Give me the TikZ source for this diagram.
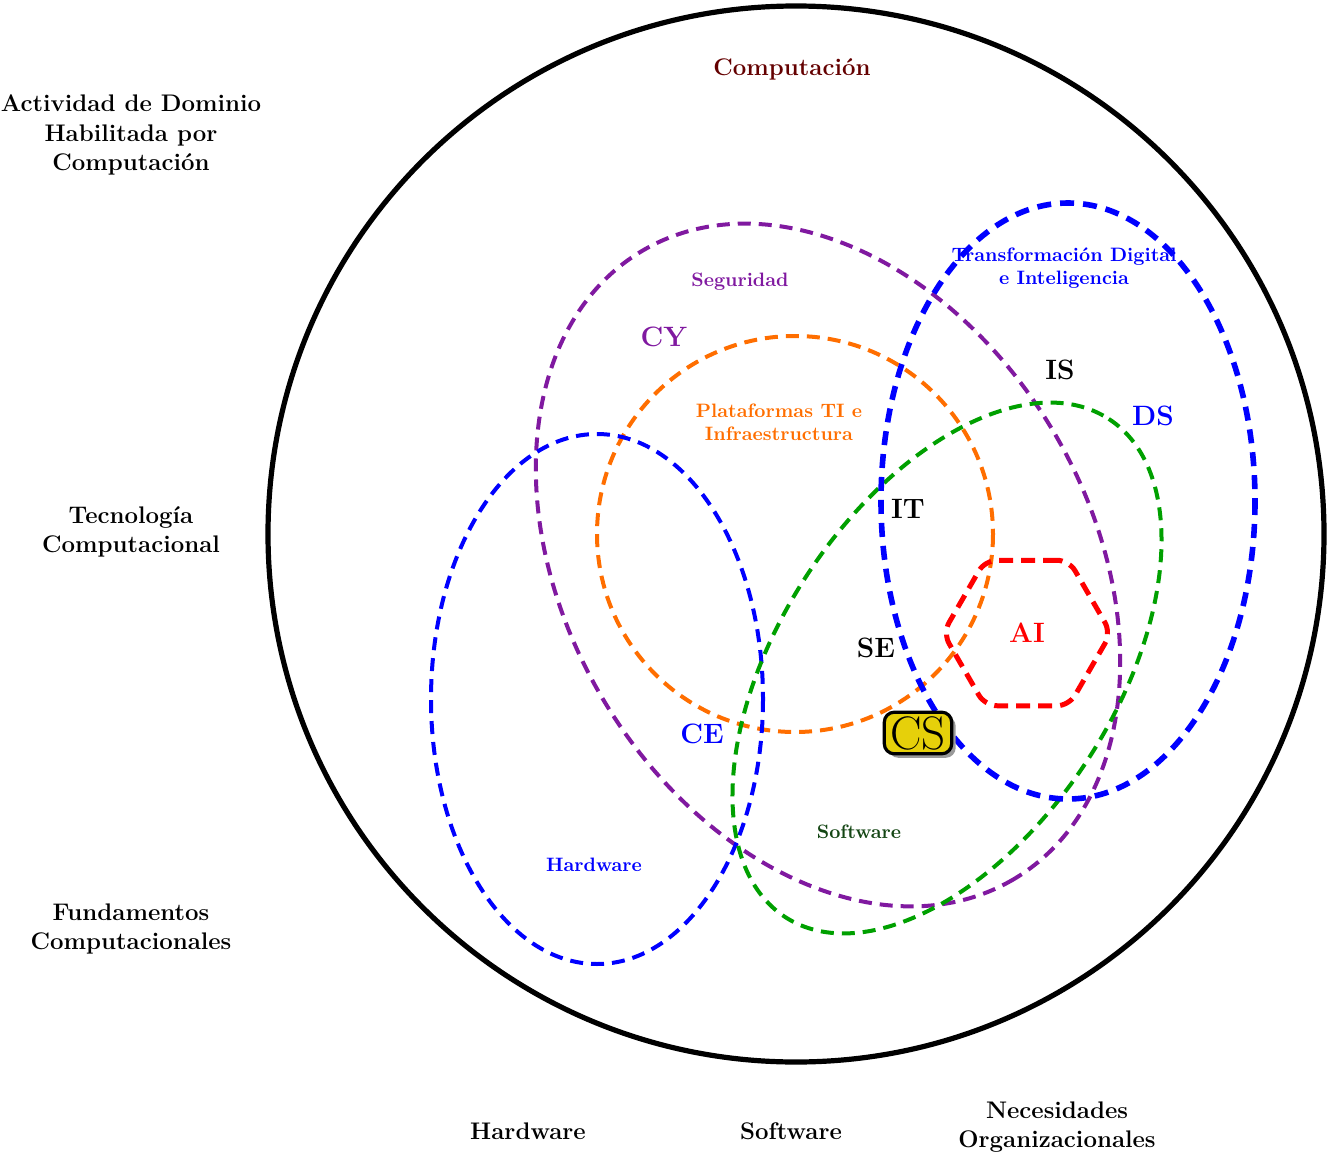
\documentclass[tikz,border=0pt]{standalone}
\usetikzlibrary{shapes.geometric,shadows}
\definecolor{cpurple}{RGB}{128,25,160}
\definecolor{corange}{RGB}{255,110,0}
\definecolor{cgreen}{RGB}{0,160,0}
\definecolor{cdgreen}{RGB}{20,70,20}
\definecolor{cdred}{RGB}{100,0,0}
\definecolor{cyellow}{RGB}{230,208,10}
\begin{document}
\begin{tikzpicture}[x=0.5pt,y=-0.5pt,
  vennline/.style={line width=2pt, dash pattern=on 6.5pt off 4pt},
  biglab/.style={font=\fontsize{12}{14.75}\selectfont\bfseries, align=center, inner sep=0pt},
  smalllab/.style={font=\fontsize{9.7}{11.3}\selectfont\bfseries, align=center, inner sep=0pt},
  acro/.style={font=\fontsize{14}{16}\selectfont\bfseries, inner sep=0pt}]
\useasboundingbox (0,0) rectangle (1328,1156);

% ---- labels (drawn first, lines go over them)
\node[biglab, text=cdred] (comp) at (792,69) {Computación};
\node[biglab] (adhc) at (131,135) {Actividad de Dominio\\Habilitada por\\Computación};
\node[biglab] (tc) at (131,532) {Tecnología\\Computacional};
\node[biglab] (fc) at (131,929) {Fundamentos\\Computacionales};
\node[biglab] (bhw) at (528,1131) {Hardware};
\node[biglab] (bsw) at (791,1131) {Software};
\node[biglab] (bno) at (1057,1127) {Necesidades\\Organizacionales};

\node[smalllab, text=cpurple] (seg) at (740,282) {Seguridad};
\node[smalllab, text=corange] (plat) at (779,422) {Plataformas TI e\\Infraestructura};
\node[smalllab, text=blue] (tdi) at (1064,268) {Transformación Digital\\e Inteligencia};
\node[smalllab, text=cdgreen] (ssw) at (859,832) {Software};
\node[smalllab, text=blue] (shw) at (594,865) {Hardware};

\node[acro, text=cpurple] (cy) at (664,337) {CY};
\node[acro] (is) at (1060,370) {IS};
\node[acro, text=blue] (ds) at (1153,416) {DS};
\node[acro] (it) at (908,509) {IT};
\node[acro] (se) at (876,648) {SE};
\node[acro, text=blue] (ce) at (702,734) {CE};

% ---- outer circle
\draw[line width=2.6pt] (796,534) circle [radius=528];

% ---- areas
\draw[vennline, cpurple, rotate around={-59.4:(828,565)}] (828,565) ellipse [x radius=365, y radius=262];
\draw[vennline, corange] (795,534) circle [radius=198];
\draw[vennline, blue] (597,699) ellipse [x radius=166, y radius=265];
\draw[vennline, cgreen, rotate around={57:(947,668)}] (947,668) ellipse [x radius=297, y radius=168];
\draw[blue, line width=2.8pt, dash pattern=on 7pt off 4.5pt] (1068,501) ellipse [x radius=187, y radius=298];

\node[regular polygon, regular polygon sides=6, minimum size=84pt, draw=red,
      line width=2.5pt, dash pattern=on 7pt off 4pt, rounded corners=6pt,
      font=\fontsize{14}{16}\selectfont\bfseries, text=red] (ai) at (1027,633) {AI};

\node[draw=black, line width=1.6pt, fill=cyellow, rounded corners=5pt,
      inner xsep=3pt, inner ysep=2pt, font=\fontsize{23.5}{25}\selectfont,
      drop shadow={shadow xshift=2pt, shadow yshift=-2pt, fill=black!40, opacity=1}] (cs) at (918,733) {CS};
\end{tikzpicture}
\end{document}
